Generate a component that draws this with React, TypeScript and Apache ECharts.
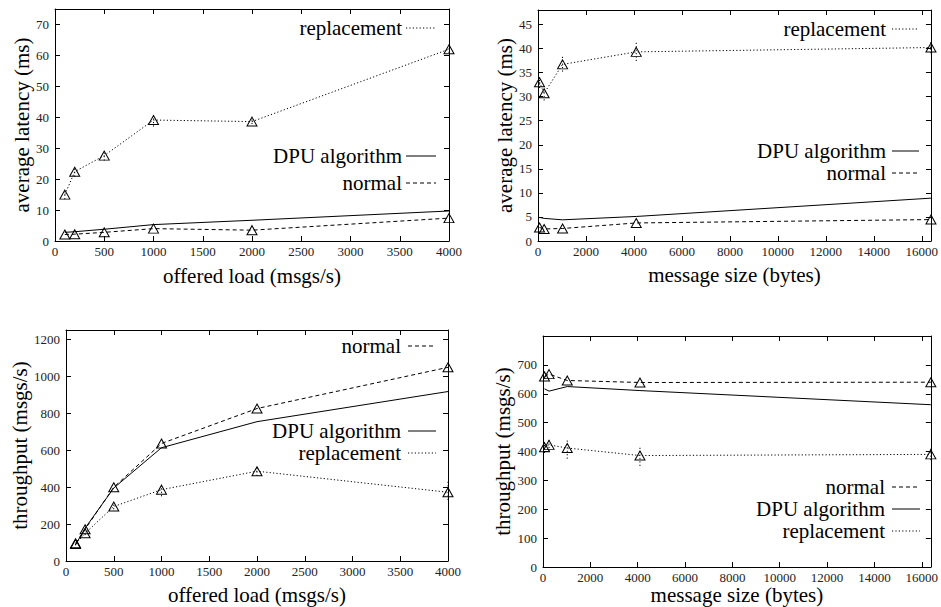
import React, { useEffect, useRef } from "react";
import * as echarts from "echarts";

// x values
const loadX = [100, 200, 500, 1000, 2000, 4000];
const sizeX = [64, 256, 1024, 4096, 16384];

// panel 1: average latency vs offered load
const latLoadReplacement = [15.0, 22.4, 27.6, 39.1, 38.6, 62.0];
const latLoadReplacementLow = [13.5, 20.8, 26.0, 37.0, 37.8, 60.8];
const latLoadReplacementHigh = [16.8, 23.8, 29.0, 41.2, 39.4, 63.0];
const latLoadDPU = [2.8, 3.0, 3.8, 5.3, 6.7, 9.7];
const latLoadNormal = [2.1, 2.2, 2.8, 4.0, 3.5, 7.4];

// panel 2: average latency vs message size
const latSizeReplacement = [33.0, 30.7, 36.7, 39.3, 40.2];
const latSizeReplacementLow = [31.8, 29.2, 35.2, 37.4, 39.0];
const latSizeReplacementHigh = [34.0, 32.0, 38.4, 41.2, 41.6];
const latSizeDPU = [4.9, 4.7, 4.4, 5.1, 8.9];
const latSizeNormal = [2.8, 2.5, 2.6, 3.75, 4.45];

// panel 3: throughput vs offered load
const thrLoadNormal = [96, 172, 399, 636, 825, 1048];
const thrLoadDPU = [87, 178, 395, 613, 754, 917];
const thrLoadReplacement = [92, 150, 295, 386, 486, 372];
const thrLoadReplacementLow = [85, 140, 280, 350, 460, 330];
const thrLoadReplacementHigh = [98, 160, 310, 420, 505, 430];

// panel 4: throughput vs message size
const thrSizeNormal = [660, 668, 646, 639, 640];
const thrSizeDPU = [617, 609, 625, 611, 562];
const thrSizeReplacement = [415, 423, 412, 386, 390];
const thrSizeReplacementLow = [395, 400, 375, 350, 370];
const thrSizeReplacementHigh = [430, 445, 445, 420, 415];

const FONT = "Liberation Serif";
const INK = "#000";

const pairs = (xs: number[], ys: number[]) => xs.map((x, i) => [x, ys[i]]);
const triples = (xs: number[], lo: number[], hi: number[]) =>
  xs.map((x, i) => [x, lo[i], hi[i]]);

const DASH = {
  dashed: [4, 3],
  dotted: [1.2, 2.2],
};

function lineSeries(
  gi: number,
  name: string,
  data: number[][],
  dash: any,
  marker: boolean
) {
  return {
    type: "line",
    name,
    xAxisIndex: gi * 2,
    yAxisIndex: gi * 2,
    data,
    symbol: marker ? "triangle" : "none",
    symbolSize: [10, 9],
    showSymbol: marker,
    lineStyle: { color: INK, width: 1, type: dash },
    itemStyle: { color: "rgba(255,255,255,0)", borderColor: INK, borderWidth: 1 },
    z: 3,
  };
}

function errSeries(gi: number, data: number[][], dash: any) {
  return {
    type: "custom",
    xAxisIndex: gi * 2,
    yAxisIndex: gi * 2,
    data,
    z: 2,
    renderItem: (_p: any, api: any) => {
      const a = api.coord([api.value(0), api.value(1)]);
      const b = api.coord([api.value(0), api.value(2)]);
      return {
        type: "line",
        shape: { x1: a[0], y1: a[1], x2: b[0], y2: b[1] },
        style: { stroke: INK, lineWidth: 1, lineDash: dash },
      };
    },
  };
}

type GridSpec = {
  left: number;
  right: number;
  top: number;
  bottom: number;
  xMax: number;
  xInterval: number;
  xShowMax: boolean;
  yMax: number;
  yInterval: number;
  xName: string;
  yName: string;
  xNameGap: number;
  yNameGap: number;
};

const grids: GridSpec[] = [
  { left: 55, right: 492, top: 9, bottom: 366, xMax: 4000, xInterval: 500, xShowMax: true, yMax: 75, yInterval: 10, xName: "offered load (msgs/s)", yName: "average latency (ms)", xNameGap: 24, yNameGap: 21 },
  { left: 538, right: 9, top: 10, bottom: 366, xMax: 16384, xInterval: 2000, xShowMax: false, yMax: 48, yInterval: 5, xName: "message size (bytes)", yName: "average latency (ms)", xNameGap: 23, yNameGap: 21 },
  { left: 66, right: 493, top: 330, bottom: 46, xMax: 4000, xInterval: 500, xShowMax: true, yMax: 1250, yInterval: 200, xName: "offered load (msgs/s)", yName: "throughput (msgs/s)", xNameGap: 23, yNameGap: 27 },
  { left: 543, right: 10, top: 336, bottom: 40, xMax: 16384, xInterval: 2000, xShowMax: false, yMax: 800, yInterval: 100, xName: "message size (bytes)", yName: "throughput (msgs/s)", xNameGap: 16, yNameGap: 28 },
];

type LegendItem = { text: string; y: number; dash: any };
const legends: { textRight: number; lineX1: number; lineX2: number; items: LegendItem[] }[] = [
  { textRight: 402, lineX1: 406, lineX2: 436, items: [
    { text: "replacement", y: 28, dash: DASH.dotted },
    { text: "DPU algorithm", y: 156, dash: null },
    { text: "normal", y: 183, dash: DASH.dashed },
  ] },
  { textRight: 886, lineX1: 892, lineX2: 919, items: [
    { text: "replacement", y: 29, dash: DASH.dotted },
    { text: "DPU algorithm", y: 151, dash: null },
    { text: "normal", y: 173, dash: DASH.dashed },
  ] },
  { textRight: 401, lineX1: 408, lineX2: 436, items: [
    { text: "normal", y: 346, dash: DASH.dashed },
    { text: "DPU algorithm", y: 431, dash: null },
    { text: "replacement", y: 453, dash: DASH.dotted },
  ] },
  { textRight: 885, lineX1: 892, lineX2: 920, items: [
    { text: "normal", y: 487, dash: DASH.dashed },
    { text: "DPU algorithm", y: 509, dash: null },
    { text: "replacement", y: 531, dash: DASH.dotted },
  ] },
];

const plain = (v: number) => String(v);

export default function App() {
  const ref = useRef<HTMLDivElement>(null);
  useEffect(() => {
    if (!ref.current) return;
    document.body.style.margin = "0";
    const chart = echarts.init(ref.current, undefined, { renderer: "svg" });

    const xAxes: any[] = [];
    const yAxes: any[] = [];
    grids.forEach((g, gi) => {
      const common = {
        gridIndex: gi,
        type: "value",
        axisLine: { show: true, onZero: false, lineStyle: { color: INK, width: 1 } },
        axisTick: { show: true, inside: true, length: 5, lineStyle: { color: INK, width: 1 } },
        splitLine: { show: false },
      };
      xAxes.push({
        ...common,
        position: "bottom",
        min: 0,
        max: g.xMax,
        interval: g.xInterval,
        name: g.xName,
        nameLocation: "middle",
        nameGap: g.xNameGap,
        nameTextStyle: { fontFamily: FONT, fontSize: 21, color: INK },
        axisLabel: { show: true, margin: 4, fontFamily: FONT, fontSize: 13, color: "#222", showMaxLabel: g.xShowMax, formatter: plain },
      });
      xAxes.push({
        ...common,
        position: "top",
        min: 0,
        max: g.xMax,
        interval: g.xInterval,
        axisLabel: { show: false },
      });
      yAxes.push({
        ...common,
        position: "left",
        min: 0,
        max: g.yMax,
        interval: g.yInterval,
        name: g.yName,
        nameLocation: "middle",
        nameGap: g.yNameGap,
        nameRotate: 90,
        nameTextStyle: { fontFamily: FONT, fontSize: 21, color: INK },
        axisLabel: { show: true, margin: 6, fontFamily: FONT, fontSize: 13, color: "#222", showMaxLabel: false, formatter: plain },
      });
      yAxes.push({
        ...common,
        position: "right",
        min: 0,
        max: g.yMax,
        interval: g.yInterval,
        axisLabel: { show: false },
      });
    });

    const series: any[] = [
      // panel 1
      errSeries(0, triples(loadX, latLoadReplacementLow, latLoadReplacementHigh), DASH.dotted),
      lineSeries(0, "replacement", pairs(loadX, latLoadReplacement), DASH.dotted, true),
      lineSeries(0, "DPU algorithm", pairs(loadX, latLoadDPU), "solid", false),
      lineSeries(0, "normal", pairs(loadX, latLoadNormal), DASH.dashed, true),
      // panel 2
      errSeries(1, triples(sizeX, latSizeReplacementLow, latSizeReplacementHigh), DASH.dotted),
      lineSeries(1, "replacement", pairs(sizeX, latSizeReplacement), DASH.dotted, true),
      lineSeries(1, "DPU algorithm", pairs(sizeX, latSizeDPU), "solid", false),
      lineSeries(1, "normal", pairs(sizeX, latSizeNormal), DASH.dashed, true),
      // panel 3
      errSeries(2, triples(loadX, thrLoadReplacementLow, thrLoadReplacementHigh), DASH.dotted),
      lineSeries(2, "normal", pairs(loadX, thrLoadNormal), DASH.dashed, true),
      lineSeries(2, "DPU algorithm", pairs(loadX, thrLoadDPU), "solid", false),
      lineSeries(2, "replacement", pairs(loadX, thrLoadReplacement), DASH.dotted, true),
      // panel 4
      errSeries(3, triples(sizeX, thrSizeReplacementLow, thrSizeReplacementHigh), DASH.dotted),
      lineSeries(3, "normal", pairs(sizeX, thrSizeNormal), DASH.dashed, true),
      lineSeries(3, "DPU algorithm", pairs(sizeX, thrSizeDPU), "solid", false),
      lineSeries(3, "replacement", pairs(sizeX, thrSizeReplacement), DASH.dotted, true),
    ];

    const graphic: any[] = [];
    legends.forEach((lg) => {
      lg.items.forEach((it) => {
        graphic.push({
          type: "text",
          style: {
            text: it.text,
            x: lg.textRight,
            y: it.y,
            align: "right",
            verticalAlign: "middle",
            fontFamily: FONT,
            fontSize: 21,
            fill: INK,
          },
        });
        graphic.push({
          type: "line",
          shape: { x1: lg.lineX1, y1: it.y, x2: lg.lineX2, y2: it.y },
          style: { stroke: INK, lineWidth: 1, lineDash: it.dash || undefined },
        });
      });
    });

    chart.setOption({
      animation: false,
      backgroundColor: "#fff",
      textStyle: { fontFamily: FONT },
      grid: grids.map((g) => ({
        left: g.left,
        right: g.right,
        top: g.top,
        bottom: g.bottom,
        containLabel: false,
        show: false,
      })),
      xAxis: xAxes,
      yAxis: yAxes,
      series,
      graphic,
    });
    return () => chart.dispose();
  }, []);
  return (
    <div
      ref={ref}
      style={{ position: "fixed", left: 0, top: 0, width: 941, height: 607, background: "#fff" }}
    />
  );
}
